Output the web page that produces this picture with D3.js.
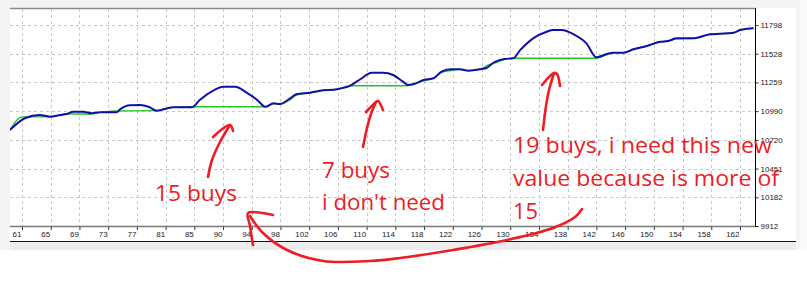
<!DOCTYPE html>
<html>
<head>
<meta charset="utf-8">
<script src="https://cdn.jsdelivr.net/npm/d3@7"></script>
<style>
html,body{margin:0;padding:0;background:#fff;}
svg{display:block;}
</style>
</head>
<body>
<div id="chart"></div>
<script>
// ---- DATA ----
const xTickLabels = ["61","65","69","73","77","81","85","90","94","98","102","106","110","114","118","122","126","130","134","138","142","146","150","154","158","162"];
const yTickLabels = ["9912","10182","10451","10720","10990","11259","11528","11798"];

// equity (blue) : trade number / value
const equityX = [59.3,61.4,63.5,64.9,66.4,67.3,68.2,69.6,70.8,72.0,74.3,74.8,76.2,77.6,78.8,80.0,80.9,82.3,84.9,86.0,87.9,89.3,91.0,92.6,94.2,95.2,96.4,97.3,98.7,99.6,101.5,102.9,105.3,107.1,108.6,110.2,111.8,113.2,114.6,115.3,116.0,117.5,118.9,120.0,121.4,122.6,123.8,125.4,126.4,127.3,128.9,130.1,131.1,132.9,134.8,135.7,136.9,138.6,140.4,141.8,143.3,144.2,145.6,147.0,148.9,150.8,151.9,153.1,155.4,157.8,159.2,161.1,162.0,163.9];
const equityY = [10813,10923,10954,10938,10954,10963,10985,10985,10970,10979,10979,11007,11045,11047,11031,10994,11007,11026,11026,11094,11182,11219,11219,11163,11088,11031,11063,11057,11110,11148,11163,11182,11195,11226,11289,11350,11350,11329,11266,11235,11242,11282,11298,11360,11382,11382,11369,11382,11397,11444,11479,11486,11564,11673,11735,11751,11751,11711,11626,11495,11526,11538,11538,11570,11601,11641,11648,11673,11673,11711,11716,11726,11751,11767];

// balance (green) : trade number / value
const balanceX = [59.3,61.0,64.9,67.3,70.6,72.0,74.3,80.0,80.9,82.3,84.9,95.2,96.4,97.3,98.7,99.6,101.5,102.9,105.3,107.1,115.1,116.0,117.5,118.9,120.0,121.4,122.6,123.8,125.4,126.6,127.7,128.9,130.1,141.8,143.3,144.2,145.6,147.0,148.9,150.8,151.9,153.1,155.4,157.8,159.2,161.1,162.0,163.9];
const balanceY = [10813,10935,10938,10963,10963,10979,10991,10994,11007,11026,11031,11031,11057,11057,11094,11141,11160,11179,11195,11228,11228,11242,11273,11298,11352,11371,11382,11369,11382,11423,11444,11479,11486,11486,11521,11538,11538,11570,11601,11641,11648,11667,11673,11711,11716,11726,11751,11767];

// ---- LAYOUT ----
const W = 807, H = 281;
const plot = {left: 10, right: 755, top: 9, bottom: 226};

const svg = d3.select("#chart").append("svg").attr("width", W).attr("height", H);

// window frame backgrounds
svg.append("rect").attr("x",0).attr("y",0).attr("width",W).attr("height",250).attr("fill","#f4f4f4");
svg.append("rect").attr("x",10).attr("y",8).attr("width",786).attr("height",233).attr("fill","#ffffff");
svg.append("rect").attr("x",10).attr("y",241).attr("width",786).attr("height",9).attr("fill","#ececec");
svg.append("rect").attr("x",0).attr("y",250).attr("width",W).attr("height",31).attr("fill","#ffffff");
svg.append("rect").attr("x",800).attr("y",0).attr("width",7).attr("height",250).attr("fill","#f9f9f9");
svg.append("line").attr("x1",10).attr("x2",796).attr("y1",241.5).attr("y2",241.5).attr("stroke","#111").attr("stroke-width",1.2);

const x = d3.scaleLinear().domain([61,162]).range([22,740]);
const y = d3.scaleLinear().domain([9912,11798]).range([226,25]);

const xTickVals = d3.range(xTickLabels.length).map(i => 61 + i*(162-61)/(xTickLabels.length-1));
const yTickVals = d3.range(yTickLabels.length).map(i => 9912 + i*(11798-9912)/(yTickLabels.length-1));

// grid
const grid = svg.append("g").attr("stroke","#c8c8c8").attr("stroke-dasharray","3,3").attr("stroke-width",1);
xTickVals.forEach(v => {
  grid.append("line").attr("x1",Math.round(x(v))+0.5).attr("x2",Math.round(x(v))+0.5).attr("y1",plot.top).attr("y2",plot.bottom);
});
yTickVals.slice(1).forEach(v => {
  grid.append("line").attr("x1",plot.left).attr("x2",plot.right).attr("y1",Math.round(y(v))+0.5).attr("y2",Math.round(y(v))+0.5);
});

// borders
svg.append("line").attr("x1",plot.left).attr("x2",plot.right).attr("y1",8.5).attr("y2",8.5).attr("stroke","#8a8a8a").attr("stroke-width",1.5);
svg.append("line").attr("x1",plot.left).attr("x2",plot.right).attr("y1",226.5).attr("y2",226.5).attr("stroke","#7a7a7a").attr("stroke-width",1.5);
svg.append("line").attr("x1",755.5).attr("x2",755.5).attr("y1",8).attr("y2",227).attr("stroke","#000").attr("stroke-width",1);

// axes
const xAxis = d3.axisBottom(x).tickValues(xTickVals).tickSize(3).tickFormat((d,i) => xTickLabels[i]);
const gx = svg.append("g").attr("transform","translate(0,227)").call(xAxis);
gx.select(".domain").remove();
gx.selectAll(".tick line").attr("stroke","#333");
gx.selectAll(".tick text").attr("text-anchor","end").attr("x",-1).attr("y",4)
  .attr("font-family","Liberation Sans, Arial, sans-serif").attr("font-size","8px").attr("fill","#222");

const yAxis = d3.axisRight(y).tickValues(yTickVals).tickSize(3).tickFormat((d,i) => yTickLabels[i]);
const gy = svg.append("g").attr("transform","translate(755.5,0)").call(yAxis);
gy.select(".domain").remove();
gy.selectAll(".tick line").attr("stroke","#333");
gy.selectAll(".tick text").attr("x",5)
  .attr("font-family","Liberation Sans, Arial, sans-serif").attr("font-size","8px").attr("fill","#222");

// clip
svg.append("clipPath").attr("id","plotclip").append("rect")
  .attr("x",plot.left).attr("y",plot.top).attr("width",plot.right-plot.left).attr("height",plot.bottom-plot.top);

const balance = balanceX.map((v,i) => [v, balanceY[i]]);
const equity = equityX.map((v,i) => [v, equityY[i]]);
const line = d3.line().x(d => x(d[0])).y(d => y(d[1])).curve(d3.curveMonotoneX);

const lines = svg.append("g").attr("clip-path","url(#plotclip)");
lines.append("path").datum(balance).attr("d",line).attr("fill","none").attr("stroke","#22c422").attr("stroke-width",1.3);
lines.append("path").datum(equity).attr("d",line).attr("fill","none").attr("stroke","#1010a8").attr("stroke-width",2).attr("stroke-linejoin","round");

// ---- ANNOTATIONS (hand-drawn overlay, pixel space) ----
const red = "#ee1c24";
const notes = [
  {t:"15 buys", x:155, y:201, w:82},
  {t:"7 buys", x:322, y:178, w:68},
  {t:"i don't need", x:322, y:210, w:123},
  {t:"19 buys, i need this new", x:513, y:153, w:259},
  {t:"value because is more of", x:513, y:186, w:266},
  {t:"15", x:513, y:219, w:25}
];
svg.append("g").selectAll("text").data(notes).join("text")
  .attr("x",d=>d.x).attr("y",d=>d.y).text(d=>d.t)
  .attr("textLength",d=>d.w).attr("lengthAdjust","spacingAndGlyphs")
  .attr("font-family","Open Sans, Noto Sans, sans-serif").attr("font-size","22px").attr("fill",red);

const strokes = [
  [[208,177],[212,160],[220,142],[230,125]],
  [[213,137],[230,125],[233,131]],
  [[363,147],[367,128],[371,114],[376,102]],
  [[366,112],[376,102],[378,101],[383,110]],
  [[543,130],[546,106],[549,90],[554,73]],
  [[542,85],[554,73],[557,74],[560,86]],
  [[582,209],[575,217],[553,228],[507,240],[453,250],[400,258],[370,261],[323,261],[287,250],[263,233],[250,216]],
  [[273,215],[262,213],[248,213],[250,226],[253,245]]
];
const pen = d3.line().curve(d3.curveCatmullRom);
svg.append("g").selectAll("path").data(strokes).join("path")
  .attr("d", pen).attr("fill","none").attr("stroke",red).attr("stroke-width",2.6)
  .attr("stroke-linecap","round").attr("stroke-linejoin","round");
</script>
</body>
</html>
